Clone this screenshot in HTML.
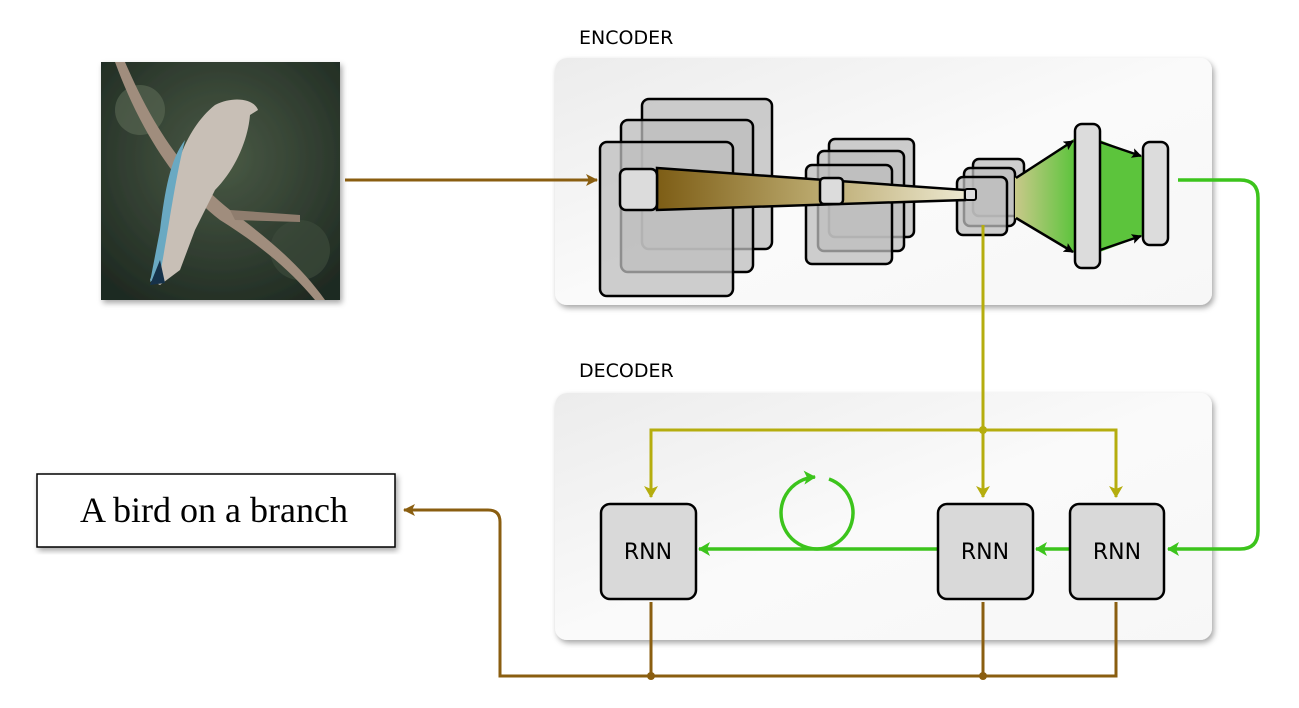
<!DOCTYPE html>
<html><head><style>body{margin:0;background:#fff}svg{display:block}</style></head><body>
<svg width="1299" height="708" viewBox="0 0 1299 708" xmlns="http://www.w3.org/2000/svg">
<defs>
<filter id="sh" x="-5%" y="-5%" width="110%" height="115%"><feDropShadow dx="2" dy="3" stdDeviation="3" flood-color="#000" flood-opacity="0.35"/></filter>
<linearGradient id="panel" x1="0" y1="0" x2="1" y2="1"><stop offset="0" stop-color="#ececec"/><stop offset="0.5" stop-color="#fafafa"/><stop offset="1" stop-color="#f7f7f7"/></linearGradient>
<linearGradient id="cone" x1="0" y1="0" x2="1" y2="0"><stop offset="0" stop-color="#7d5d15"/><stop offset="0.5" stop-color="#b8a66a"/><stop offset="1" stop-color="#ece8d0"/></linearGradient>
<linearGradient id="fc" x1="0" y1="0" x2="1" y2="0"><stop offset="0" stop-color="#c9c98a"/><stop offset="1" stop-color="#5cc43c"/></linearGradient>
<radialGradient id="bg" cx="0.5" cy="0.4" r="0.7"><stop offset="0" stop-color="#4a5a45"/><stop offset="1" stop-color="#1f2a22"/></radialGradient>
<marker id="ab" markerWidth="12" markerHeight="12" refX="11" refY="6" orient="auto" markerUnits="userSpaceOnUse"><path d="M0,0 L12,6 L0,12 L3,6z" fill="#8a5e10"/></marker>
<marker id="ay" markerWidth="12" markerHeight="14" refX="11" refY="7" orient="auto" markerUnits="userSpaceOnUse"><path d="M0,0 L12,7 L0,14 L3,7z" fill="#b5ad0e"/></marker>
<marker id="ag" markerWidth="12" markerHeight="14" refX="11" refY="7" orient="auto" markerUnits="userSpaceOnUse"><path d="M0,0 L12,7 L0,14 L3,7z" fill="#3cc41c"/></marker>
<marker id="ak" markerWidth="10" markerHeight="10" refX="9" refY="5" orient="auto" markerUnits="userSpaceOnUse"><path d="M0,0 L10,5 L0,10 L2,5z" fill="#000"/></marker>
</defs>

<!-- photo -->
<g filter="url(#sh)">
<rect x="101" y="62" width="239" height="238" fill="url(#bg)"/>
</g>
<circle cx="140" cy="110" r="25" fill="#5b6a55" opacity="0.6"/>
<circle cx="300" cy="250" r="30" fill="#3c4a3a" opacity="0.7"/>
<path d="M125,62 C150,120 180,170 230,210 C270,240 300,265 325,300 L315,300 C290,270 260,245 220,220 C175,185 140,130 115,62z" fill="#a08d7d"/>
<path d="M230,210 L300,215 L300,222 L235,220z" fill="#8f7d6e"/>
<path d="M215,105 C235,95 255,100 258,110 L250,115 C248,140 235,170 215,190 L195,230 L180,270 L160,285 L150,280 L165,240 L170,200 C175,160 190,125 215,105z" fill="#c8bfb6"/>
<path d="M185,140 C175,180 170,220 160,275 L150,282 L160,230 C165,190 170,160 185,140z" fill="#6aa9c2"/>
<path d="M160,260 L150,285 L165,283z" fill="#16324a"/>

<!-- panels -->
<rect x="555" y="58" width="657" height="247" rx="12" fill="url(#panel)" filter="url(#sh)"/>
<rect x="555" y="393" width="657" height="247" rx="12" fill="url(#panel)" filter="url(#sh)"/>
<text x="579" y="44" font-family="'DejaVu Sans','Liberation Sans',sans-serif" font-size="19" fill="#000">ENCODER</text>
<text x="579" y="377" font-family="'DejaVu Sans','Liberation Sans',sans-serif" font-size="19" fill="#000">DECODER</text>

<!-- input arrow -->
<line x1="345" y1="180" x2="597" y2="180" stroke="#8a5e10" stroke-width="3" marker-end="url(#ab)"/>

<!-- conv stacks -->
<g stroke="#000" stroke-width="2.5" fill="#bdbdbd" fill-opacity="0.75">
<rect x="642" y="99" width="130" height="150" rx="7"/>
<rect x="621" y="120" width="132" height="152" rx="7"/>
<rect x="600" y="142" width="133" height="154" rx="7"/>
<rect x="829" y="139" width="85" height="98" rx="6"/>
<rect x="818" y="151" width="86" height="100" rx="6"/>
<rect x="806" y="165" width="86" height="99" rx="6"/>
<rect x="973" y="159" width="51" height="57" rx="6"/>
<rect x="964" y="168" width="51" height="58" rx="6"/>
<rect x="957" y="177" width="50" height="58" rx="6"/>
</g>
<path d="M657,168 L965,190 L965,200 L657,210z" fill="url(#cone)" stroke="#000" stroke-width="2.5"/>
<rect x="620" y="169" width="37" height="41" rx="6" fill="#dcdcdc" stroke="#000" stroke-width="2.5"/>
<rect x="820" y="178" width="23" height="26" rx="4" fill="#dcdcdc" stroke="#000" stroke-width="2.5"/>
<rect x="965" y="189" width="11" height="11" rx="2" fill="#dcdcdc" stroke="#000" stroke-width="2"/>
<!-- fc -->
<path d="M1015,178 L1075,138 L1075,253 L1015,218z" fill="url(#fc)"/>
<path d="M1100,140 L1143,157 L1143,236 L1100,252z" fill="#5cc43c"/>
<g stroke="#000" stroke-width="2.5" fill="none">
<line x1="1016" y1="178" x2="1073" y2="141" marker-end="url(#ak)"/>
<line x1="1016" y1="218" x2="1073" y2="252" marker-end="url(#ak)"/>
<line x1="1100" y1="142" x2="1141" y2="156" marker-end="url(#ak)"/>
<line x1="1100" y1="250" x2="1141" y2="236" marker-end="url(#ak)"/>
</g>
<rect x="1075" y="124" width="25" height="144" rx="7" fill="#dcdcdc" stroke="#000" stroke-width="2.5"/>
<rect x="1143" y="142" width="25" height="103" rx="7" fill="#dcdcdc" stroke="#000" stroke-width="2.5"/>

<!-- yellow -->
<g stroke="#b5ad0e" stroke-width="3" fill="none">
<line x1="983" y1="225" x2="983" y2="430"/>
<path d="M983,430 L651,430 L651,497" marker-end="url(#ay)"/>
<path d="M983,430 L1116,430 L1116,497" marker-end="url(#ay)"/>
<line x1="983" y1="430" x2="983" y2="497" marker-end="url(#ay)"/>
</g>
<circle cx="983" cy="430" r="4" fill="#b5ad0e"/>

<!-- green -->
<g stroke="#3cc41c" stroke-width="3.5" fill="none">
<path d="M1178,180 L1240,180 Q1258,180 1258,198 L1258,531 Q1258,549 1240,549 L1168,549" marker-end="url(#ag)"/>
<line x1="1070" y1="549" x2="1036" y2="549" marker-end="url(#ag)"/>
<line x1="938" y1="549" x2="699" y2="549" marker-end="url(#ag)"/>
<path d="M829,479 A36,36 0 1,1 815,477" marker-end="url(#ag)"/>
</g>

<!-- RNN boxes -->
<g font-family="'DejaVu Sans','Liberation Sans',sans-serif" font-size="22" text-anchor="middle">
<rect x="601" y="504" width="95" height="95" rx="9" fill="#d9d9d9" stroke="#000" stroke-width="2.5"/>
<text x="648" y="559">RNN</text>
<rect x="938" y="504" width="95" height="95" rx="9" fill="#d9d9d9" stroke="#000" stroke-width="2.5"/>
<text x="985" y="559">RNN</text>
<rect x="1070" y="504" width="94" height="95" rx="9" fill="#d9d9d9" stroke="#000" stroke-width="2.5"/>
<text x="1117" y="559">RNN</text>
</g>

<!-- brown output -->
<g stroke="#8a5e10" stroke-width="3" fill="none">
<line x1="651" y1="602" x2="651" y2="676"/>
<line x1="983" y1="602" x2="983" y2="676"/>
<path d="M1116,602 L1116,676 L500,676 L500,522 Q500,510 488,510 L404,510" marker-end="url(#ab)"/>
</g>
<circle cx="651" cy="676" r="4" fill="#8a5e10"/>
<circle cx="983" cy="676" r="4" fill="#8a5e10"/>

<rect x="37" y="474" width="358" height="73" fill="#fff" stroke="#000" stroke-width="1.5" filter="url(#sh)"/>
<text x="214" y="522" text-anchor="middle" font-family="'Liberation Serif',serif" font-size="36">A bird on a branch</text>
</svg>
</body></html>
